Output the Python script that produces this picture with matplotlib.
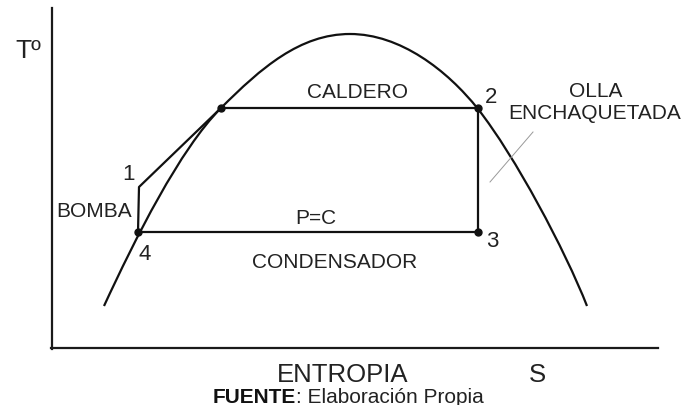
import matplotlib.pyplot as plt
from matplotlib.path import Path
from matplotlib.patches import PathPatch

plt.rcParams['font.family'] = ['Liberation Sans', 'DejaVu Sans']

# campana de saturacion (entropia, temperatura) como tramos bezier leidos del dibujo
# pie izq -> liquido saturado -> cima -> punto 2 -> pie der
dome_s = [104, 135, 180, 221, 261, 300, 350, 400, 447, 478, 515, 565, 587]
dome_t = [307, 240, 150, 109, 69, 35, 35, 35, 71, 110, 157, 251, 307]

# ciclo: 4 -> 1 -> liquido saturado -> 2 -> 3 -> 4
ciclo_s = [138, 139, 221, 478, 478, 138]
ciclo_t = [233, 188, 109, 109, 233, 233]

# puntos marcados
punto_s = [138, 221, 478, 478]
punto_t = [233, 109, 109, 233]

# etiquetas de estados
estados = ['1', '2', '3', '4']
estado_s = [129, 491, 492, 145]
estado_t = [180, 103, 247, 260]

fig = plt.figure(figsize=(6.84, 4.06), dpi=100)
ax = fig.add_axes([0, 0, 1, 1])
ax.set_xlim(0, 684)
ax.set_ylim(406, 0)
ax.axis('off')

# ejes T y S
ax.plot([52, 52], [9, 350], color='#1a1a1a', lw=1.6)
ax.plot([51, 658], [349, 349], color='#1a1a1a', lw=1.6)

# campana
codes = [Path.MOVETO] + [Path.CURVE4] * (len(dome_s) - 1)
campana = Path(list(zip(dome_s, dome_t)), codes)
ax.add_patch(PathPatch(campana, fill=False, edgecolor='#111111', lw=1.6))

ax.plot(ciclo_s, ciclo_t, color='#111111', lw=1.6)
ax.plot(punto_s, punto_t, 'o', color='#111111', ms=5)

# linea guia de la olla
ax.plot([490, 533], [183, 133], color='#999999', lw=0.7)

for e, x, y in zip(estados, estado_s, estado_t):
    ax.text(x, y, e, fontsize=16, ha='center', va='baseline', color='#222222')

txt = dict(ha='center', va='baseline', color='#222222')
ax.text(28, 58, 'Tº', fontsize=19, **txt)
ax.text(357, 98, 'CALDERO', fontsize=15, **txt)
ax.text(596, 97, 'OLLA', fontsize=15, **txt)
ax.text(595, 119, 'ENCHAQUETADA', fontsize=15, **txt)
ax.text(94, 217, 'BOMBA', fontsize=15, **txt)
ax.text(316, 224, 'P=C', fontsize=15, **txt)
ax.text(335, 268, 'CONDENSADOR', fontsize=15, **txt)
ax.text(343, 382, 'ENTROPIA', fontsize=18.5, **txt)
ax.text(537, 382, 'S', fontsize=18.5, **txt)

# pie de figura con FUENTE en negrita
t1 = ax.text(213, 403, 'FUENTE', fontsize=15, fontweight='bold', ha='left', va='baseline', color='#111111')
ax.annotate(': Elaboración Propia', xycoords=t1, xy=(1, 0), va='bottom', ha='left',
            fontsize=15, color='#222222')

plt.savefig('out.png', dpi=100)
